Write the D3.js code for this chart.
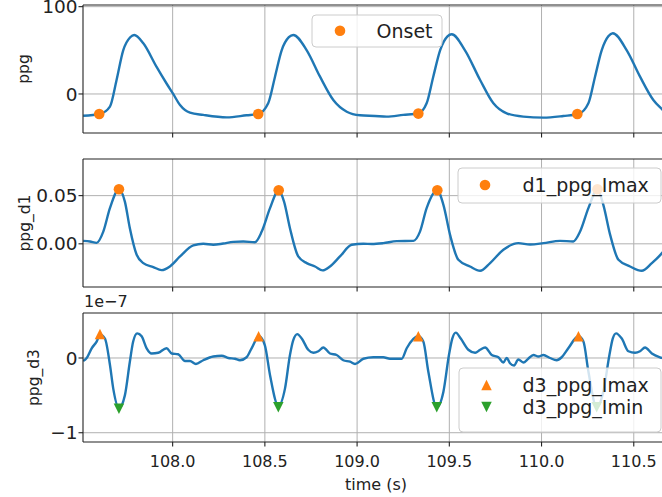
<!DOCTYPE html>
<html>
<head>
<meta charset="utf-8">
<script src="https://cdn.jsdelivr.net/npm/d3@7"></script>
<style>
  html, body { margin: 0; padding: 0; background: #fff; }
  svg { display: block; font-family: "DejaVu Sans", sans-serif; }
</style>
</head>
<body>
<svg id="chart" width="662" height="497"></svg>
<script>
// PPG signal (arbitrary units)
const ppgTime = [107.515, 107.606, 107.660, 107.696, 107.732, 107.770, 107.792, 107.841, 107.913, 107.967,
  108.003, 108.040, 108.094, 108.166, 108.293, 108.401, 108.464, 108.518, 108.555, 108.591,
  108.630, 108.654, 108.727, 108.799, 108.871, 108.944, 109.016, 109.097, 109.160, 109.250,
  109.332, 109.377, 109.413, 109.450, 109.490, 109.513, 109.585, 109.667, 109.739, 109.811,
  109.901, 110.010, 110.118, 110.200, 110.254, 110.290, 110.326, 110.362, 110.386, 110.462,
  110.534, 110.606, 110.653, 110.691];
const ppgValue = [-24.9, -22.9, -14.5, 16, 50, 65, 67.6, 58, 31, 12,
  0, -12.6, -21.4, -24.0, -26.8, -24.4, -22.9, -10.7, 19.8, 50,
  65, 67.6, 50, 19.8, -6.9, -20.3, -24.4, -25.2, -26.0, -24.0,
  -22.2, -10.7, 19.8, 50, 66, 68.4, 50, 16, -10.7, -22.2,
  -26.0, -27.1, -25.2, -22.9, -10.7, 19.8, 50, 66, 69.5, 50,
  19.8, -6.9, -17.5, -25.0];
const onsetTime = [107.602, 108.464, 109.332, 110.194];
const onsetValue = [-23.0, -23.0, -22.5, -23.0];

// First derivative
const d1Time = [107.515, 107.552, 107.588, 107.624, 107.660, 107.709, 107.741, 107.768, 107.805, 107.841,
  107.895, 107.940, 107.985, 108.040, 108.112, 108.166, 108.220, 108.274, 108.329, 108.383,
  108.446, 108.483, 108.528, 108.575, 108.604, 108.636, 108.681, 108.727, 108.772, 108.813,
  108.853, 108.907, 108.971, 109.034, 109.080, 109.142, 109.215, 109.305, 109.341, 109.377,
  109.435, 109.468, 109.504, 109.549, 109.612, 109.667, 109.721, 109.793, 109.874, 109.938,
  110.010, 110.100, 110.172, 110.209, 110.254, 110.303, 110.335, 110.372, 110.417, 110.480,
  110.543, 110.598, 110.653, 110.691];
const d1Value = [0.0031, 0.0024, 0.0010, 0.0127, 0.0370, 0.0566, 0.0438, 0.0162, -0.0114, -0.0200,
  -0.0241, -0.0273, -0.0235, -0.0131, -0.0017, 0.0000, -0.0010, 0.0003, 0.0020, 0.0024,
  0.0017, 0.0127, 0.0370, 0.0556, 0.0438, 0.0162, -0.0131, -0.0200, -0.0235, -0.0276,
  -0.0235, -0.0131, -0.0010, 0.0000, -0.0002, 0.0007, 0.0028, 0.0031, 0.0127, 0.0370,
  0.0556, 0.0404, 0.0093, -0.0166, -0.0235, -0.0280, -0.0200, -0.0062, 0.0007, -0.0007,
  0.0007, 0.0031, 0.0024, 0.0127, 0.0370, 0.0566, 0.0404, 0.0093, -0.0166, -0.0235,
  -0.0280, -0.0200, -0.0096, 0.0000];
const d1MaxTime = [107.709, 108.575, 109.435, 110.303];
const d1MaxValue = [0.0566, 0.0556, 0.0556, 0.0566];

// Third derivative, in units of 1e-7
const d3Time = [107.515, 107.534, 107.561, 107.588, 107.606, 107.633, 107.660, 107.678, 107.709, 107.741,
  107.768, 107.786, 107.808, 107.832, 107.859, 107.886, 107.922, 107.967, 107.995, 108.030,
  108.067, 108.094, 108.126, 108.166, 108.220, 108.266, 108.302, 108.338, 108.365, 108.401,
  108.428, 108.468, 108.500, 108.528, 108.573, 108.609, 108.636, 108.654, 108.676, 108.700,
  108.735, 108.763, 108.790, 108.817, 108.853, 108.889, 108.925, 108.962, 108.989, 109.034,
  109.088, 109.142, 109.178, 109.242, 109.269, 109.332, 109.359, 109.386, 109.432, 109.468,
  109.498, 109.516, 109.535, 109.562, 109.603, 109.640, 109.667, 109.694, 109.730, 109.766,
  109.793, 109.811, 109.829, 109.851, 109.874, 109.901, 109.928, 109.956, 109.983, 110.010,
  110.046, 110.082, 110.109, 110.145, 110.200, 110.227, 110.254, 110.299, 110.335, 110.368,
  110.386, 110.404, 110.435, 110.471, 110.507, 110.534, 110.561, 110.598, 110.653, 110.691];
const d3Value = [-0.04, 0.00, 0.13, 0.22, 0.31, 0.26, -0.09, -0.41, -0.67, -0.50,
  -0.05, 0.22, 0.33, 0.29, 0.13, 0.06, 0.07, 0.13, 0.06, 0.05,
  -0.04, -0.04, -0.08, -0.03, 0.02, 0.03, 0.00, -0.01, -0.03, 0.01,
  0.13, 0.29, 0.17, -0.23, -0.64, -0.41, 0.04, 0.24, 0.32, 0.26,
  0.11, 0.07, 0.09, 0.14, 0.06, 0.04, -0.03, -0.05, -0.08, -0.01,
  0.01, 0.01, -0.01, -0.01, 0.13, 0.29, 0.22, -0.18, -0.66, -0.45,
  0.04, 0.26, 0.34, 0.26, 0.11, 0.07, 0.11, 0.14, 0.04, 0.01,
  -0.06, 0.00, -0.07, -0.10, -0.02, -0.06, -0.01, 0.04, 0.02, 0.04,
  0.00, -0.03, 0.01, 0.13, 0.29, 0.22, -0.18, -0.66, -0.45, 0.04,
  0.26, 0.33, 0.26, 0.09, 0.07, 0.09, 0.14, 0.06, 0.00, -0.03];
const d3MaxTime = [107.606, 108.466, 109.332, 110.200];
const d3MaxValue = [0.32, 0.29, 0.29, 0.29];
const d3MinTime = [107.709, 108.573, 109.432, 110.299];
const d3MinValue = [-0.68, -0.66, -0.66, -0.66];

// Tick values and labels
const timeTicks = [108.0, 108.5, 109.0, 109.5, 110.0, 110.5];
const ppgTicks = [0, 100];
const d1Ticks = [0.00, 0.05];
const d3Ticks = [-1, 0];

const BLUE = "#1f77b4", ORANGE = "#ff7f0e", GREEN = "#2ca02c";
const svg = d3.select("#chart");

const x = d3.scaleLinear().domain([107.514, 110.691]).range([83, 669]);

const panels = [
  { top: 5, bottom: 133, domain: [-44.7, 101.9], ticks: ppgTicks, fmt: d => String(d),
    label: "ppg", labelX: 29, time: ppgTime, value: ppgValue },
  { top: 159, bottom: 287, domain: [-0.0448, 0.088], ticks: d1Ticks, fmt: d3.format(".2f"),
    label: "ppg_d1", labelX: 29.5, time: d1Time, value: d1Value },
  { top: 313, bottom: 442, domain: [-1.124, 0.602], ticks: d3Ticks, fmt: d => d < 0 ? "\u2212" + Math.abs(d) : String(d),
    label: "ppg_d3", labelX: 38.5, time: d3Time, value: d3Value }
];

const [x0, x1] = x.range();
const X_TICK_FONT = 16, Y_TICK_FONT = 18.5;

panels.forEach((p, i) => {
  p.y = d3.scaleLinear().domain(p.domain).range([p.bottom, p.top]);
  const g = svg.append("g");
  const clipId = "clip" + i;
  svg.append("clipPath").attr("id", clipId)
    .append("rect").attr("x", x0).attr("y", p.top).attr("width", x1 - x0).attr("height", p.bottom - p.top);

  // grid
  g.selectAll(".vgrid").data(timeTicks).join("line")
    .attr("x1", d => x(d)).attr("x2", d => x(d)).attr("y1", p.top).attr("y2", p.bottom)
    .attr("stroke", "#b0b0b0").attr("stroke-width", 1);
  g.selectAll(".hgrid").data(p.ticks).join("line")
    .attr("x1", x0).attr("x2", x1).attr("y1", d => p.y(d)).attr("y2", d => p.y(d))
    .attr("stroke", "#b0b0b0").attr("stroke-width", 1);

  // signal
  const line = d3.line().x((d, k) => x(p.time[k])).y(d => p.y(d)).curve(d3.curveMonotoneX);
  g.append("path").datum(p.value).attr("d", line)
    .attr("fill", "none").attr("stroke", BLUE).attr("stroke-width", 2.4)
    .attr("stroke-linejoin", "round").attr("clip-path", `url(#${clipId})`);

  p.g = g;
  p.clipId = clipId;
});

// markers
function triangle(s, up) {
  const h = s / 2;
  return up ? `M0,${-h}L${-h},${h}L${h},${h}Z` : `M0,${h}L${-h},${-h}L${h},${-h}Z`;
}
const P1 = panels[0], P2 = panels[1], P3 = panels[2];
P1.g.append("g").attr("clip-path", `url(#${P1.clipId})`).selectAll("circle").data(onsetValue).join("circle")
  .attr("cx", (d, k) => x(onsetTime[k])).attr("cy", d => P1.y(d)).attr("r", 5.3).attr("fill", ORANGE);
P2.g.append("g").attr("clip-path", `url(#${P2.clipId})`).selectAll("circle").data(d1MaxValue).join("circle")
  .attr("cx", (d, k) => x(d1MaxTime[k])).attr("cy", d => P2.y(d)).attr("r", 5.3).attr("fill", ORANGE);
P3.g.append("g").attr("clip-path", `url(#${P3.clipId})`).selectAll(".up").data(d3MaxValue).join("path")
  .attr("d", triangle(10.5, true)).attr("fill", ORANGE)
  .attr("transform", (d, k) => `translate(${x(d3MaxTime[k])},${P3.y(d)})`);
P3.g.append("g").attr("clip-path", `url(#${P3.clipId})`).selectAll(".down").data(d3MinValue).join("path")
  .attr("d", triangle(10.5, false)).attr("fill", GREEN)
  .attr("transform", (d, k) => `translate(${x(d3MinTime[k])},${P3.y(d)})`);

// spines, ticks and labels
panels.forEach((p, i) => {
  const g = p.g;
  g.append("line").attr("x1", x0).attr("x2", x1).attr("y1", p.top).attr("y2", p.top).attr("stroke", "#222").attr("stroke-width", 1.1);
  g.append("line").attr("x1", x0).attr("x2", x1).attr("y1", p.bottom).attr("y2", p.bottom).attr("stroke", "#222").attr("stroke-width", 1.1);
  g.append("line").attr("x1", x0).attr("x2", x0).attr("y1", p.top).attr("y2", p.bottom).attr("stroke", "#222").attr("stroke-width", 1.1);
  g.append("line").attr("x1", x1).attr("x2", x1).attr("y1", p.top).attr("y2", p.bottom).attr("stroke", "#222").attr("stroke-width", 1.1);

  g.selectAll(".xt").data(timeTicks).join("line")
    .attr("x1", d => x(d)).attr("x2", d => x(d)).attr("y1", p.bottom).attr("y2", p.bottom + 4.5)
    .attr("stroke", "#222").attr("stroke-width", 1.1);
  g.selectAll(".yt").data(p.ticks).join("line")
    .attr("x1", x0 - 4.5).attr("x2", x0).attr("y1", d => p.y(d)).attr("y2", d => p.y(d))
    .attr("stroke", "#222").attr("stroke-width", 1.1);
  g.selectAll(".ytl").data(p.ticks).join("text")
    .attr("x", x0 - 5.5).attr("y", d => p.y(d)).attr("dy", "0.36em")
    .attr("text-anchor", "end").attr("font-size", Y_TICK_FONT).attr("fill", "#222").text(p.fmt);

  g.append("text")
    .attr("transform", `translate(${p.labelX},${(p.top + p.bottom) / 2}) rotate(-90)`)
    .attr("text-anchor", "middle").attr("font-size", 15.5).attr("fill", "#222").text(p.label);

  if (i === 2) {
    g.selectAll(".xtl").data(timeTicks).join("text")
      .attr("x", d => x(d)).attr("y", 466.5).attr("text-anchor", "middle")
      .attr("font-size", X_TICK_FONT).attr("fill", "#222").text(d3.format(".1f"));
    g.append("text").attr("x", (x0 + x1) / 2).attr("y", 489.5).attr("text-anchor", "middle")
      .attr("font-size", 16).attr("fill", "#222").text("time (s)");
    g.append("text").attr("x", 84).attr("y", 306.5).attr("font-size", 16).attr("fill", "#222").text("1e\u22127");
  }
});

// legends
function legend(box, rows) {
  const lg = svg.append("g");
  lg.append("rect").attr("x", box.x).attr("y", box.y).attr("width", box.w).attr("height", box.h)
    .attr("rx", 4).attr("fill", "#fff").attr("fill-opacity", 0.8).attr("stroke", "#cccccc").attr("stroke-width", 1);
  rows.forEach(r => {
    if (r.shape === "circle") {
      lg.append("circle").attr("cx", r.mx).attr("cy", r.y).attr("r", 5.3).attr("fill", r.color);
    } else {
      lg.append("path").attr("d", triangle(10.5, r.shape === "up")).attr("fill", r.color)
        .attr("transform", `translate(${r.mx},${r.y})`);
    }
    lg.append("text").attr("x", r.tx).attr("y", r.y).attr("dy", "0.36em")
      .attr("font-size", 19).attr("fill", "#222").text(r.text);
  });
}
legend({ x: 312, y: 15, w: 130, h: 32 }, [{ shape: "circle", color: ORANGE, mx: 340, tx: 376.5, y: 30.7, text: "Onset" }]);
legend({ x: 458, y: 168, w: 203, h: 35 }, [{ shape: "circle", color: ORANGE, mx: 485, tx: 522.5, y: 185, text: "d1_ppg_Imax" }]);
legend({ x: 459, y: 368, w: 202, h: 64 }, [
  { shape: "up", color: ORANGE, mx: 486.5, tx: 522.5, y: 385, text: "d3_ppg_Imax" },
  { shape: "down", color: GREEN, mx: 486.5, tx: 522.5, y: 407, text: "d3_ppg_Imin" }
]);
</script>
</body>
</html>
